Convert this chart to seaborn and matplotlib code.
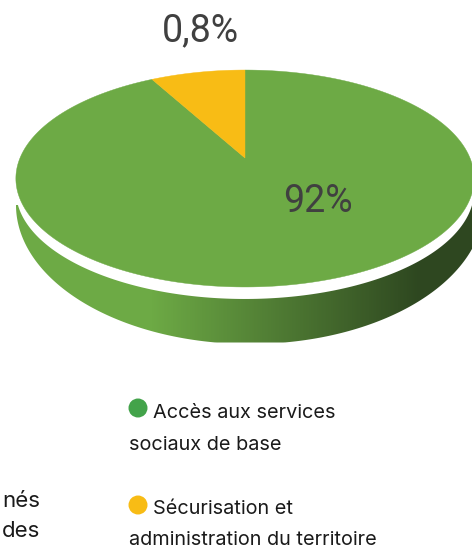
import numpy as np
import seaborn as sns
import matplotlib.pyplot as plt
from matplotlib.patches import Polygon

# Pie data
slice_names = ['Accès aux services sociaux de base', 'Sécurisation et administration du territoire']
slice_values = [92, 8]
slice_labels = ['92%', '0,8%']
slice_colors = ['#6DAA45', '#F8BC15']
legend_colors = ['#43A34A', '#F8BC15']


def project(u, v):
    # Tilted perspective view of the unit circle, in image pixels
    k = 0.189
    w = 1 + k * v
    return 245 + 225 * u / w, 158 - 104.6 * v / w


def create_chart():
    sns.set_theme(style='white')
    fig = plt.figure(figsize=(4.72, 5.46), dpi=100)
    ax = fig.add_axes([0, 0, 1, 1])

    # Start so that the small slice ends exactly at twelve o'clock
    start = 90 + 360 * slice_values[1] / sum(slice_values)
    wedges, _ = ax.pie(slice_values, colors=slice_colors, startangle=start)

    ax.set_aspect('auto')
    ax.set_xlim(0, 472)
    ax.set_ylim(546, 0)
    ax.axis('off')

    # Side of the disc: gradient clipped to the lower half of a bigger ellipse
    t = np.linspace(0, np.pi, 300)
    side_x = 250 + 234 * np.cos(t)
    side_y = np.minimum(205 + 139 * np.sin(t), 342.5)
    side = Polygon(np.column_stack([side_x, side_y]), closed=True, fc='none', ec='none')
    ax.add_patch(side)
    cmap = sns.blend_palette(['#6DAA45', '#2E4720'], as_cmap=True)
    ramp = np.clip((np.arange(472) - 150) / (420 - 150), 0, 1)
    img = ax.imshow(ramp.reshape(1, -1), cmap=cmap, aspect='auto',
                    extent=(0, 472, 546, 0), zorder=1)
    img.set_clip_path(side)
    ax.set_xlim(0, 472)
    ax.set_ylim(546, 0)

    # White gap below the top face
    t = np.linspace(0, 2 * np.pi, 400)
    gx, gy = project(np.cos(t), np.sin(t))
    ax.add_patch(Polygon(np.column_stack([gx, gy + 12]), closed=True, fc='white', ec='none', zorder=2))

    # Top face: re-project the wedges of the pie
    for wedge in wedges:
        a = np.radians(np.linspace(wedge.theta1, wedge.theta2, 300))
        x, y = project(np.r_[0, np.cos(a)], np.r_[0, np.sin(a)])
        ax.add_patch(Polygon(np.column_stack([x, y]), closed=True, fc=wedge.get_facecolor(),
                             ec=wedge.get_facecolor(), lw=0.3, zorder=3))
        wedge.set_visible(False)

    # Value labels
    label_kw = dict(fontsize=27, family='Roboto', color='#404040', ha='center', va='center', zorder=4)
    ax.text(318, 202, slice_labels[0], **label_kw)
    ax.text(200, 31, slice_labels[1], **label_kw)

    # Legend
    ax.scatter([138, 138], [408, 505], s=187, c=legend_colors, linewidths=0, zorder=4)
    text_kw = dict(fontsize=14.3, family='Inter', color='#1a1a1a', va='baseline', zorder=4)
    ax.text(153, 418, 'Accès aux services', **text_kw)
    ax.text(129, 450, 'sociaux de base', **text_kw)
    ax.text(153, 514, 'Sécurisation et', **text_kw)
    ax.text(129, 545, 'administration du territoire', **text_kw)

    # Cut-off text at the left edge
    cut_kw = dict(fontsize=16, family='Inter', color='#1a1a1a', va='baseline', ha='right', zorder=4)
    ax.text(40, 507, 'nés', **cut_kw)
    ax.text(40, 537, 'des', **cut_kw)

    fig.savefig('out.png', dpi=100)
    plt.close(fig)


if __name__ == '__main__':
    create_chart()
